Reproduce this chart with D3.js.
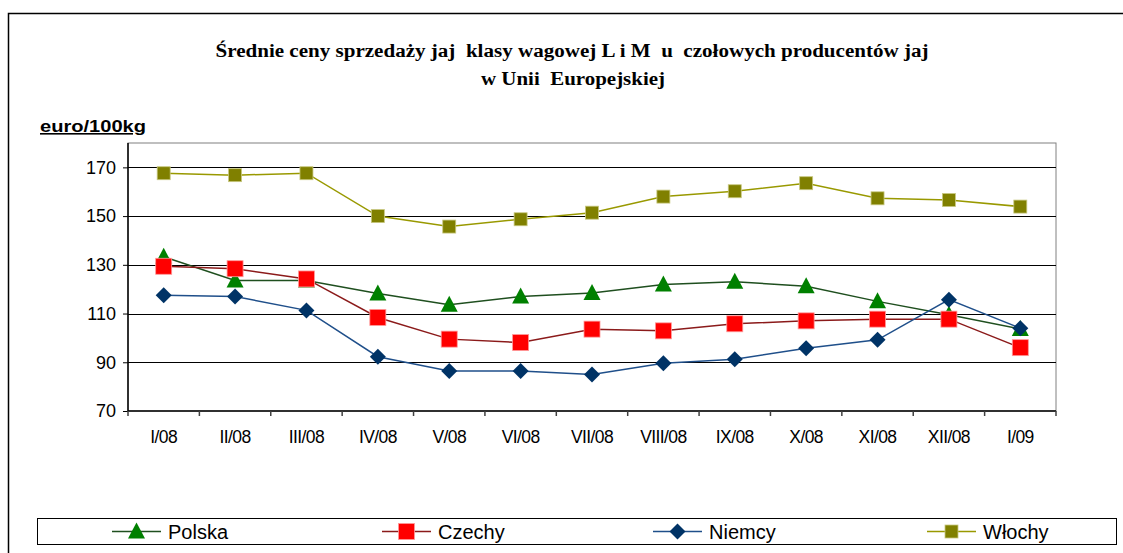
<!DOCTYPE html>
<html>
<head>
<meta charset="utf-8">
<script src="https://cdn.jsdelivr.net/npm/d3@7"></script>
<style>
html,body{margin:0;padding:0;background:#fff;}
svg{display:block;}
.pre{white-space:pre;}
</style>
</head>
<body>
<svg id="chart" width="1123" height="553"></svg>
<script>
const categories = ["I/08","II/08","III/08","IV/08","V/08","VI/08","VII/08","VIII/08","IX/08","X/08","XI/08","XII/08","I/09"];
const polska  = [133.3,123.6,123.6,118.2,113.6,117.0,118.4,121.9,123.1,121.2,115.0,109.5,103.7];
const czechy  = [129.4,128.4,124.2,108.4, 99.5, 98.1,103.6,102.9,105.8,107.0,107.7,107.7, 96.0];
const niemcy  = [117.5,117.0,111.3, 92.3, 86.4, 86.4, 85.0, 89.6, 91.2, 95.8, 99.2,115.7,104.0];
const wlochy  = [167.6,166.8,167.6,150.0,145.7,148.7,151.4,158.0,160.2,163.5,157.3,156.6,153.9];
const yTicks  = [70,90,110,130,150,170];
const seriesNames = ["Polska","Czechy","Niemcy","Włochy"];
const titleLines = ["Średnie ceny sprzedaży jaj  klasy wagowej L i M  u  czołowych producentów jaj","w Unii  Europejskiej"];
const unitLabel = "euro/100kg";

const series = [
  {name: seriesNames[0], values: polska, line: "#1f4f1f", fill: "#008000", shape: "triangle"},
  {name: seriesNames[1], values: czechy, line: "#8b1a1a", fill: "#ff0000", shape: "square"},
  {name: seriesNames[2], values: niemcy, line: "#1f4f8a", fill: "#003366", shape: "diamond"},
  {name: seriesNames[3], values: wlochy, line: "#999900", fill: "#808000", shape: "squareSmall"}
];

const svg = d3.select("#chart");
const L = 128, R = 1056, T = 143, B = 411;
const x = d3.scaleBand().domain(categories).range([L, R]);
const y = d3.scaleLinear().domain([70, 180]).range([B, T]);

// outer frame
svg.append("rect").attr("x", 8.5).attr("y", 13.5).attr("width", 1200).attr("height", 600)
  .attr("fill", "#fff").attr("stroke", "#000").attr("stroke-width", 1.5);

// title
svg.append("text").attr("class", "pre").attr("x", 572).attr("y", 57).attr("text-anchor", "middle")
  .attr("font-family", "Liberation Serif, Times New Roman, serif").attr("font-weight", "bold")
  .attr("font-size", 18).attr("textLength", 713).attr("lengthAdjust", "spacingAndGlyphs")
  .text(titleLines[0]);
svg.append("text").attr("class", "pre").attr("x", 573).attr("y", 85).attr("text-anchor", "middle")
  .attr("font-family", "Liberation Serif, Times New Roman, serif").attr("font-weight", "bold")
  .attr("font-size", 18).attr("textLength", 184).attr("lengthAdjust", "spacingAndGlyphs")
  .text(titleLines[1]);

// unit label
svg.append("text").attr("x", 40).attr("y", 132).attr("font-family", "Liberation Sans, Arial, sans-serif")
  .attr("font-weight", "bold").attr("font-size", 16).attr("text-decoration", "underline")
  .attr("textLength", 106).attr("lengthAdjust", "spacingAndGlyphs").text(unitLabel);

// plot frame (top/right)
svg.append("rect").attr("x", L).attr("y", T).attr("width", R - L).attr("height", B - T)
  .attr("fill", "none").attr("stroke", "#808080").attr("stroke-width", 1);

// gridlines
svg.append("g").selectAll("line").data(yTicks.filter(v => v > 70)).join("line")
  .attr("x1", L).attr("x2", R).attr("y1", d => Math.round(y(d)) + 0.5).attr("y2", d => Math.round(y(d)) + 0.5)
  .attr("stroke", "#000").attr("stroke-width", 1);

// y axis
const yAxis = svg.append("g").attr("transform", `translate(${L},0)`)
  .call(d3.axisLeft(y).tickValues(yTicks).tickSize(5).tickPadding(7).tickFormat(d3.format("d")));
yAxis.select(".domain").attr("stroke", "#000").attr("stroke-width", 1.5).attr("d", `M0,${T}V${B}`);
yAxis.selectAll(".tick line").attr("stroke", "#000");
yAxis.selectAll(".tick text").attr("font-family", "Liberation Sans, Arial, sans-serif")
  .attr("font-size", 18).attr("fill", "#000");

// x axis
const xAxis = svg.append("g").attr("transform", `translate(0,${B})`)
  .call(d3.axisBottom(x).tickSize(0).tickPadding(20));
xAxis.select(".domain").attr("stroke", "#000").attr("stroke-width", 1.5).attr("d", `M${L},0H${R}`);
xAxis.selectAll(".tick text").attr("font-family", "Liberation Sans, Arial, sans-serif")
  .attr("font-size", 17.5).attr("letter-spacing", "-0.6").attr("fill", "#000");
// category boundary ticks
const bounds = categories.map(c => x(c)).concat([R]);
xAxis.append("g").selectAll("line").data(bounds).join("line")
  .attr("x1", d => d).attr("x2", d => d).attr("y1", 0).attr("y2", 5)
  .attr("stroke", "#404040").attr("stroke-width", 1.5);

const cx = c => x(c) + x.bandwidth() / 2;

function drawMarker(g, shape, fill, px, py) {
  if (shape === "triangle") {
    g.append("path").attr("d", `M${px},${py - 9}L${px + 8.5},${py + 7}L${px - 8.5},${py + 7}Z`).attr("fill", fill);
  } else if (shape === "square") {
    g.append("rect").attr("x", px - 8).attr("y", py - 8).attr("width", 16).attr("height", 16)
      .attr("fill", fill).attr("stroke", "#ff9999").attr("stroke-width", 0.8);
  } else if (shape === "squareSmall") {
    g.append("rect").attr("x", px - 6.5).attr("y", py - 6.5).attr("width", 13).attr("height", 13)
      .attr("fill", fill).attr("stroke", "#c8c880").attr("stroke-width", 0.8);
  } else if (shape === "diamond") {
    g.append("path").attr("d", `M${px},${py - 8}L${px + 8},${py}L${px},${py + 8}L${px - 8},${py}Z`).attr("fill", fill);
  }
}

const line = d3.line().x((d, i) => cx(categories[i])).y(d => y(d));
series.forEach(s => {
  const g = svg.append("g");
  g.append("path").datum(s.values).attr("d", line).attr("fill", "none")
    .attr("stroke", s.line).attr("stroke-width", 1.5);
  s.values.forEach((v, i) => drawMarker(g, s.shape, s.fill, cx(categories[i]), y(v)));
});

// legend
svg.append("rect").attr("x", 37.5).attr("y", 518.5).attr("width", 1079).attr("height", 26)
  .attr("fill", "#fff").attr("stroke", "#000").attr("stroke-width", 1);
const legendX = [112, 382, 653, 927];
series.forEach((s, i) => {
  const g = svg.append("g");
  const lx = legendX[i], ly = 531.5;
  g.append("line").attr("x1", lx).attr("x2", lx + 49).attr("y1", ly).attr("y2", ly)
    .attr("stroke", s.line).attr("stroke-width", 1.5);
  drawMarker(g, s.shape, s.fill, lx + 24.5, ly);
  g.append("text").attr("x", lx + 56).attr("y", 538.5)
    .attr("font-family", "Liberation Sans, Arial, sans-serif").attr("font-size", 20)
    .attr("fill", "#000").text(s.name);
});
</script>
</body>
</html>
